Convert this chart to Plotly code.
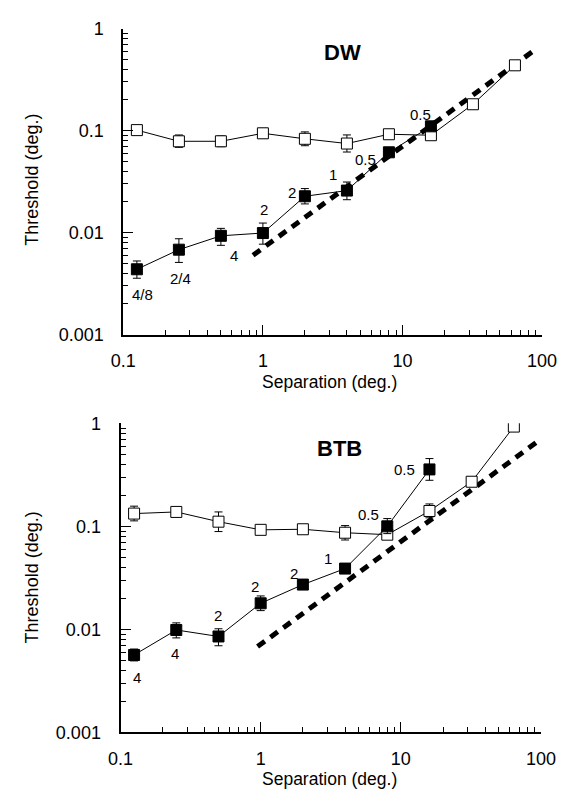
import math
import plotly.graph_objects as go

# ---------------- data ----------------
separation = [0.125, 0.25, 0.5, 1, 2, 4, 8, 16, 32, 64]
sep_filled = [0.125, 0.25, 0.5, 1, 2, 4, 8, 16]

# DW panel
dw_open = [0.101, 0.0785, 0.0785, 0.094, 0.083, 0.0746, 0.092, 0.090, 0.181, 0.436]
dw_open_err_plus = [0.004, 0.012, 0.010, 0.011, 0.014, 0.016, 0.005, 0.004, 0.0, 0.0]
dw_open_err_minus = [0.004, 0.010, 0.009, 0.009, 0.012, 0.013, 0.005, 0.004, 0.0, 0.0]
dw_filled = [0.00437, 0.0068, 0.0093, 0.0099, 0.0227, 0.0258, 0.0612, 0.110]
dw_filled_err_plus = [0.0009, 0.0019, 0.0017, 0.0025, 0.0043, 0.0055, 0.004, 0.006]
dw_filled_err_minus = [0.0008, 0.0017, 0.0018, 0.0022, 0.0036, 0.0048, 0.004, 0.006]
dw_filled_labels = ["4/8", "2/4", "4", "2", "2", "1", "0.5", "0.5"]
dw_ideal_x = [0.85, 85]
dw_ideal_y = [0.006, 0.59]

# BTB panel
btb_open = [0.133, 0.138, 0.111, 0.0925, 0.0937, 0.0867, 0.083, 0.141, 0.271, 0.93]
btb_open_err_plus = [0.024, 0.010, 0.027, 0.0, 0.0, 0.015, 0.006, 0.024, 0.0, 0.0]
btb_open_err_minus = [0.020, 0.010, 0.022, 0.0, 0.0, 0.013, 0.006, 0.020, 0.0, 0.0]
btb_filled = [0.00564, 0.00986, 0.00853, 0.0179, 0.0272, 0.0389, 0.100, 0.357]
btb_filled_err_plus = [0.0008, 0.0017, 0.0016, 0.0032, 0.002, 0.003, 0.019, 0.098]
btb_filled_err_minus = [0.0007, 0.0016, 0.0016, 0.0027, 0.002, 0.003, 0.015, 0.077]
btb_filled_labels = ["4", "4", "2", "2", "2", "1", "0.5", "0.5"]
btb_ideal_x = [0.95, 95]
btb_ideal_y = [0.0068, 0.67]

x_tick_vals = [0.1, 1, 10, 100]
x_tick_text = ["0.1", "1", "10", "100"]
y_tick_vals = [0.001, 0.01, 0.1, 1]
y_tick_text = ["0.001", "0.01", "0.1", "1"]
panel_titles = ["DW", "BTB"]
x_title = "Separation (deg.)"
y_title = "Threshold (deg.)"

# ---------------- styling ----------------
FONT = "Liberation Sans, Arial, Helvetica, sans-serif"
label_offsets_dw = [(6, -25), (2, -29), (13, -20), (1, 24), (-13, 4), (-14, 16), (-23, -7), (-10, 12)]
label_offsets_btb = [(3, -23), (-1, -24), (0, 21), (-6, 17), (-9, 11), (-17, 10), (-19, 12), (-25, 0)]

fig = go.Figure()


def add_panel(xa, ya, ideal_x, ideal_y, open_y, op, om, filled_y, fp, fm):
    fig.add_trace(go.Scatter(
        x=ideal_x, y=ideal_y, mode="lines", xaxis=xa, yaxis=ya,
        line=dict(color="black", width=5, dash="9px,7px"), hoverinfo="skip"))
    fig.add_trace(go.Scatter(
        x=separation, y=open_y, mode="lines+markers", xaxis=xa, yaxis=ya,
        line=dict(color="black", width=1),
        marker=dict(symbol="square", size=11, color="white", line=dict(color="black", width=1)),
        error_y=dict(type="data", symmetric=False, array=op, arrayminus=om,
                     color="black", thickness=1, width=4)))
    fig.add_trace(go.Scatter(
        x=sep_filled, y=filled_y, mode="lines+markers", xaxis=xa, yaxis=ya,
        line=dict(color="black", width=1),
        marker=dict(symbol="square", size=11, color="black", line=dict(color="black", width=1)),
        error_y=dict(type="data", symmetric=False, array=fp, arrayminus=fm,
                     color="black", thickness=1, width=4)))


add_panel("x", "y", dw_ideal_x, dw_ideal_y, dw_open, dw_open_err_plus, dw_open_err_minus,
          dw_filled, dw_filled_err_plus, dw_filled_err_minus)
add_panel("x2", "y2", btb_ideal_x, btb_ideal_y, btb_open, btb_open_err_plus, btb_open_err_minus,
          btb_filled, btb_filled_err_plus, btb_filled_err_minus)

minor_x = [m * 10 ** e for e in range(-1, 2) for m in range(2, 10)]
minor_y = [m * 10 ** e for e in range(-3, 0) for m in range(2, 10)]


def xaxis(domain, anchor):
    return dict(type="log", range=[-1, 2], domain=domain, anchor=anchor,
                showline=True, linecolor="black", linewidth=2, showgrid=False, zeroline=False,
                ticks="inside", ticklen=10, tickwidth=1, tickcolor="black",
                tickmode="array", tickvals=x_tick_vals, ticktext=x_tick_text,
                minor=dict(tickmode="array", tickvals=minor_x, ticks="inside", ticklen=5,
                           tickwidth=1, tickcolor="black", showgrid=False),
                tickfont=dict(family=FONT, size=18, color="black"), ticklabelstandoff=9)


def yaxis(domain, anchor):
    return dict(type="log", range=[-3, 0], domain=domain, anchor=anchor,
                showline=True, linecolor="black", linewidth=2, showgrid=False, zeroline=False,
                ticks="inside", ticklen=10, tickwidth=1, tickcolor="black",
                tickmode="array", tickvals=y_tick_vals, ticktext=y_tick_text,
                minor=dict(tickmode="array", tickvals=minor_y, ticks="inside", ticklen=5,
                           tickwidth=1, tickcolor="black", showgrid=False),
                tickfont=dict(family=FONT, size=18, color="black"), ticklabelstandoff=14)


W, H = 576, 795
annotations = []


def add_labels(xr, yr, yvals, labels, offsets):
    for sx, sy, t, (dx, dy) in zip(sep_filled, yvals, labels, offsets):
        annotations.append(dict(x=math.log10(sx), y=math.log10(sy), xref=xr, yref=yr,
                                text=t, showarrow=False, xshift=dx, yshift=dy,
                                xanchor="center", yanchor="middle",
                                font=dict(family=FONT, size=15, color="black")))


add_labels("x", "y", dw_filled, dw_filled_labels, label_offsets_dw)
add_labels("x2", "y2", btb_filled, btb_filled_labels, label_offsets_btb)


def paper_text(px, py, text, size, angle=0):
    annotations.append(dict(x=px / W, y=1 - py / H, xref="paper", yref="paper", text=text,
                            showarrow=False, xanchor="center", yanchor="middle", textangle=angle,
                            borderpad=0, font=dict(family=FONT, size=size, color="black")))


# panel titles
paper_text(346, 44, "<b>%s</b>" % panel_titles[0], 22)
paper_text(343, 450, "<b>%s</b>" % panel_titles[1], 22)
# axis titles
paper_text(333, 382, x_title, 17.5)
paper_text(333, 789, x_title, 17.5)
paper_text(20, 174, y_title, 18, -90)
paper_text(20, 582, y_title, 18, -90)

fig.update_layout(
    width=W, height=H, margin=dict(l=0, r=0, t=0, b=0),
    paper_bgcolor="white", plot_bgcolor="white", showlegend=False,
    xaxis=xaxis([116 / W, 556 / W], "y"),
    yaxis=yaxis([1 - 333 / H, 1 - 19 / H], "x"),
    xaxis2=xaxis([113 / W, 555 / W], "y2"),
    yaxis2=yaxis([1 - 741 / H, 1 - 424 / H], "x2"),
    annotations=annotations,
)

fig.write_html("out.html")
